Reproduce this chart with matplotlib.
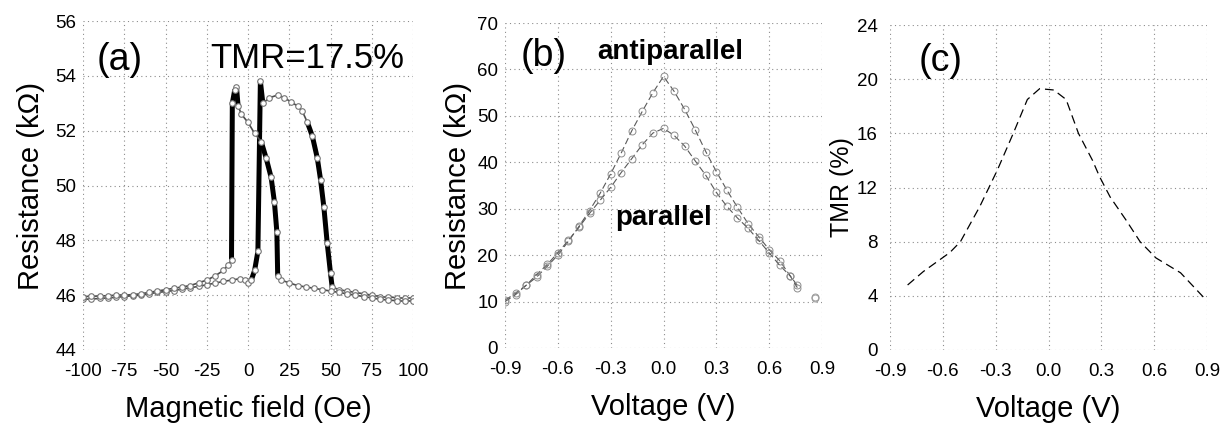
import numpy as np
import matplotlib
matplotlib.use("Agg")
import matplotlib.pyplot as plt
from matplotlib.collections import LineCollection

plt.rcParams['font.family'] = ['Liberation Sans', 'DejaVu Sans']
plt.rcParams['axes.unicode_minus'] = False

# ---- panel (a): R vs H loop ----
H_up = [-100, -95, -90, -85, -80, -75, -70, -65, -60, -55, -50, -45, -40, -35, -30,
        -25, -20, -15, -10, -5, -2, 0, 2, 4, 6, 7.5, 9, 13, 18, 22, 26, 30, 33, 36,
        39, 42, 44, 46, 48, 50, 51, 55, 60, 65, 70, 75, 80, 85, 90, 95, 100]
R_up = [45.85, 45.86, 45.88, 45.9, 45.92, 45.95, 45.98, 46.0, 46.05, 46.1, 46.13,
        46.17, 46.22, 46.27, 46.32, 46.38, 46.44, 46.5, 46.55, 46.6, 46.55, 46.45,
        46.55, 46.9, 47.6, 53.8, 53.0, 53.2, 53.3, 53.2, 53.05, 52.9, 52.7, 52.3,
        51.8, 51.0, 50.2, 49.2, 47.9, 46.8, 46.3, 46.2, 46.15, 46.1, 46.05, 46.0,
        45.95, 45.95, 45.9, 45.9, 45.9]

H_dn = [100, 95, 90, 85, 80, 75, 70, 65, 60, 55, 50, 45, 40, 35, 30, 25, 20, 18,
        17.5, 16, 14, 11, 8, 4, 0, -4, -6, -7, -8, -9.5, -10, -12, -15, -20, -25,
        -30, -35, -40, -45, -50, -55, -60, -65, -70, -75, -80, -85, -90, -95, -100]
R_dn = [45.8, 45.8, 45.8, 45.82, 45.85, 45.9, 45.95, 46.0, 46.05, 46.1, 46.15, 46.2,
        46.25, 46.3, 46.35, 46.45, 46.55, 46.7, 48.3, 49.4, 50.3, 51.0, 51.6, 51.9,
        52.3, 52.6, 52.9, 53.6, 53.5, 53.0, 47.3, 47.1, 46.9, 46.7, 46.55, 46.45,
        46.35, 46.3, 46.25, 46.2, 46.15, 46.1, 46.05, 46.02, 46.0, 46.0, 45.98,
        45.97, 45.96, 45.95]

# ---- panel (b): R vs V ----
V_b = [-0.9, -0.84, -0.78, -0.72, -0.66, -0.6, -0.54, -0.48, -0.42, -0.36, -0.3,
       -0.24, -0.18, -0.12, -0.06, 0.0, 0.06, 0.12, 0.18, 0.24, 0.3, 0.36, 0.42,
       0.48, 0.54, 0.6, 0.66, 0.72, 0.76]
R_ap = [10.3, 11.8, 13.5, 15.3, 17.6, 20.0, 23.0, 26.2, 29.6, 33.3, 37.5, 42.0,
        46.8, 51.0, 55.0, 58.5, 55.3, 51.4, 47.0, 42.3, 38.0, 34.0, 30.3, 26.8,
        24.0, 21.2, 18.8, 15.5, 13.5]
R_p = [10.0, 11.5, 13.5, 15.8, 18.0, 20.5, 23.2, 26.0, 29.0, 31.8, 34.6, 37.8,
       40.8, 43.8, 46.3, 47.3, 45.8, 43.5, 40.3, 37.2, 33.5, 30.5, 28.0, 25.8,
       23.2, 20.5, 17.8, 15.5, 13.0]
V_end = [0.86]
R_ap_end = [11.0]
R_p_end = [10.8]

# ---- panel (c): TMR vs V ----
V_c = [-0.8, -0.71, -0.56, -0.5, -0.39, -0.29, -0.2, -0.12, -0.05, 0.03, 0.1,
       0.17, 0.25, 0.29, 0.35, 0.44, 0.52, 0.61, 0.75, 0.88]
TMR_c = [4.8, 5.8, 7.2, 8.0, 10.6, 13.3, 16.0, 18.5, 19.3, 19.2, 18.5, 16.0, 14.0,
         12.8, 11.3, 9.6, 8.0, 6.8, 5.7, 3.9]

W, H = 1226, 430
fig = plt.figure(figsize=(W / 100, H / 100), dpi=100)


def px_axes(x0, x1, y0, y1):
    return fig.add_axes([x0 / W, 1 - y1 / H, (x1 - x0) / W, (y1 - y0) / H])


def style(ax, pad_x=9, pad_y=5):
    for s in ax.spines.values():
        s.set_visible(False)
    ax.tick_params(length=0, labelsize=13.5)
    ax.tick_params(axis='x', pad=pad_x)
    ax.tick_params(axis='y', pad=pad_y)
    ax.grid(True, linestyle=(0, (1, 3)), color='0.55', lw=0.8)
    ax.set_axisbelow(True)


# panel (a)
ax1 = px_axes(83, 413, 21, 350)
style(ax1)
for hh, rr in ((H_up, R_up), (H_dn, R_dn)):
    h = np.array(hh, float)
    r = np.array(rr, float)
    seg = np.stack([np.column_stack([h[:-1], r[:-1]]),
                    np.column_stack([h[1:], r[1:]])], axis=1)
    slope = np.abs(np.diff(r) / np.diff(h))
    lw = np.where(slope > 0.15, 3.6, 1.2)
    col = np.where(slope > 0.15, 'black', '0.3')
    ax1.add_collection(LineCollection(seg, linewidths=lw, colors=col, zorder=2))
    ax1.plot(h, r, 'o', ms=4, mfc='white', mec='0.45', mew=0.8, zorder=3)
ax1.set_xlim(-100, 100)
ax1.set_ylim(44, 56)
ax1.set_xticks(np.arange(-100, 101, 25))
ax1.set_yticks(np.arange(44, 57, 2))
ax1.set_xlabel('Magnetic field (Oe)', fontsize=21, labelpad=11)
ax1.set_ylabel('Resistance (kΩ)', fontsize=21, labelpad=7)
ax1.text(0.04, 0.88, '(a)', transform=ax1.transAxes, fontsize=27, va='center')
ax1.text(0.385, 0.885, 'TMR=17.5%', transform=ax1.transAxes, fontsize=25,
         va='center')

# panel (b)
ax2 = px_axes(505, 822, 23, 348)
style(ax2)
for rr, rend in ((R_ap, R_ap_end), (R_p, R_p_end)):
    ax2.plot(V_b, rr, ls=(0, (6, 3)), color='0.35', lw=0.8, marker='o', ms=5,
             mfc='none', mec='0.55', mew=0.7)
    ax2.plot(V_end, rend, 'o', ms=5, mfc='none', mec='0.6', mew=0.7)
ax2.set_xlim(-0.9, 0.9)
ax2.set_ylim(0, 70)
ax2.set_xticks(np.arange(-0.9, 0.91, 0.3))
ax2.set_xticklabels(['-0.9', '-0.6', '-0.3', '0.0', '0.3', '0.6', '0.9'])
ax2.set_yticks(np.arange(0, 71, 10))
ax2.set_xlabel('Voltage (V)', fontsize=21, labelpad=11)
ax2.set_ylabel('Resistance (kΩ)', fontsize=21, labelpad=4)
ax2.text(0.05, 0.9, '(b)', transform=ax2.transAxes, fontsize=27, va='center')
ax2.text(0.52, 0.91, 'antiparallel', transform=ax2.transAxes, fontsize=20,
         fontweight='bold', ha='center', va='center')
ax2.text(0.5, 0.40, 'parallel', transform=ax2.transAxes, fontsize=20,
         fontweight='bold', ha='center', va='center')

# panel (c)
ax3 = px_axes(890, 1207, 25, 350)
style(ax3, pad_y=9)
ax3.plot(V_c, TMR_c, ls=(0, (7, 4)), color='black', lw=0.9)
ax3.set_xlim(-0.9, 0.9)
ax3.set_ylim(0, 24)
ax3.set_xticks(np.arange(-0.9, 0.91, 0.3))
ax3.set_xticklabels(['-0.9', '-0.6', '-0.3', '0.0', '0.3', '0.6', '0.9'])
ax3.set_yticks(np.arange(0, 25, 4))
ax3.set_xlabel('Voltage (V)', fontsize=21, labelpad=11)
ax3.set_ylabel('TMR (%)', fontsize=18, labelpad=2)
ax3.text(0.09, 0.89, '(c)', transform=ax3.transAxes, fontsize=27, va='center')

fig.savefig('out.png', dpi=100)
